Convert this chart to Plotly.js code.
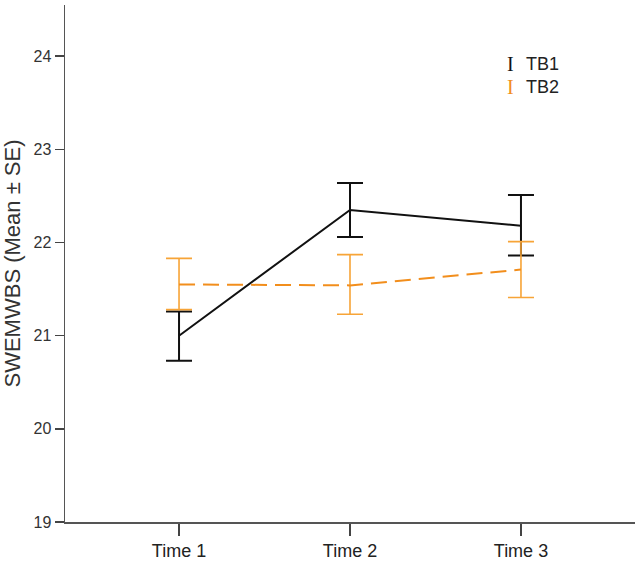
<!DOCTYPE html>
<html>
<head>
<meta charset="utf-8">
<script src="https://cdn.plot.ly/plotly-3.0.1.min.js"></script>
<style>html,body{margin:0;padding:0;background:#fff;}#chart{width:640px;height:561px;}</style>
</head>
<body>
<div id="chart"></div>
<script>
const categories = ['Time 1', 'Time 2', 'Time 3'];
const tb1Mean = [21.00, 22.35, 22.18];
const tb1Upper = [21.26, 22.64, 22.51];
const tb1Lower = [20.73, 22.06, 21.86];
const tb2Mean = [21.55, 21.54, 21.71];
const tb2Upper = [21.83, 21.87, 22.01];
const tb2Lower = [21.28, 21.23, 21.41];
const yTicks = [19, 20, 21, 22, 23, 24];

const up = (u, m) => u.map((v, i) => v - m[i]);
const dn = (l, m) => l.map((v, i) => m[i] - v);

const tb1 = {
  x: categories, y: tb1Mean, type: 'scatter', mode: 'lines', name: 'TB1',
  line: {color: '#111111', width: 2},
  error_y: {type: 'data', symmetric: false, array: up(tb1Upper, tb1Mean), arrayminus: dn(tb1Lower, tb1Mean),
            color: '#111111', thickness: 2, width: 13}
};
const tb2 = {
  x: categories, y: tb2Mean, type: 'scatter', mode: 'lines', name: 'TB2',
  line: {color: '#F28E1C', width: 2, dash: '16px,8px'},
  error_y: {type: 'data', symmetric: false, array: up(tb2Upper, tb2Mean), arrayminus: dn(tb2Lower, tb2Mean),
            color: '#F7A437', thickness: 1.6, width: 13}
};

const layout = {
  width: 640, height: 561,
  margin: {l: 65, r: 5, t: 5, b: 39},
  paper_bgcolor: '#fff', plot_bgcolor: '#fff',
  showlegend: false,
  font: {family: 'Liberation Sans, Arial, sans-serif', color: '#333'},
  xaxis: {
    type: 'category', range: [-0.667, 2.667],
    showline: true, linecolor: '#555', linewidth: 1.5,
    ticks: 'outside', ticklen: 12, tickcolor: '#444', tickwidth: 1.5,
    showgrid: false, zeroline: false,
    tickfont: {size: 18, color: '#222'}
  },
  yaxis: {
    range: [19, 24.55], tickvals: yTicks,
    showline: true, linecolor: '#555', linewidth: 1.5,
    ticks: 'outside', ticklen: 9, tickcolor: '#444', tickwidth: 1.5,
    showgrid: false, zeroline: false,
    tickfont: {size: 16, color: '#333'},
    title: {text: 'SWEMWBS (Mean ± SE)', font: {size: 22, color: '#333'}, standoff: 8}
  },
  annotations: [
    {xref: 'paper', yref: 'paper', x: 0.782, y: 0.886, xanchor: 'center', yanchor: 'middle', showarrow: false,
     text: 'I', font: {family: 'Liberation Serif, serif', size: 20, color: '#111'}},
    {xref: 'paper', yref: 'paper', x: 0.805, y: 0.886, xanchor: 'left', yanchor: 'middle', showarrow: false,
     text: 'TB1', font: {size: 18, color: '#222'}},
    {xref: 'paper', yref: 'paper', x: 0.782, y: 0.842, xanchor: 'center', yanchor: 'middle', showarrow: false,
     text: 'I', font: {family: 'Liberation Serif, serif', size: 20, color: '#F28E1C'}},
    {xref: 'paper', yref: 'paper', x: 0.805, y: 0.842, xanchor: 'left', yanchor: 'middle', showarrow: false,
     text: 'TB2', font: {size: 18, color: '#222'}}
  ]
};

Plotly.newPlot('chart', [tb1, tb2], layout, {displayModeBar: false, staticPlot: true});
</script>
</body>
</html>
